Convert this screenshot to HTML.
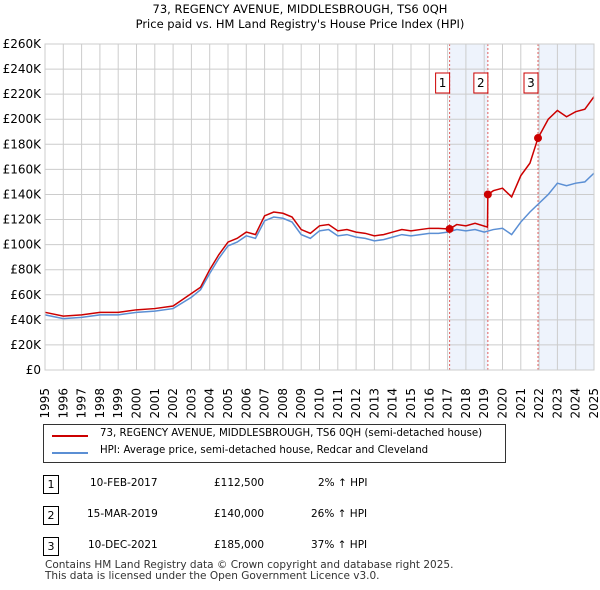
<!DOCTYPE html>
<html><head><meta charset="utf-8"><style>
body{margin:0;background:#fff;font-family:"DejaVu Sans","Liberation Sans",sans-serif;}
#wrap{position:relative;width:600px;height:590px;overflow:hidden}
.t{position:absolute;font-size:11px;color:#000;white-space:nowrap}
</style></head><body><div id="wrap">
<svg id="chart" width="600" height="590" style="position:absolute;left:0;top:0;font-family:'DejaVu Sans',sans-serif"></svg>
</div>
<script>
const years=[1995,1996,1997,1998,1999,2000,2001,2002,2003,2003.5,2004,2004.5,2005,2005.5,2006,2006.5,2007,2007.5,2008,2008.5,2009,2009.5,2010,2010.5,2011,2011.5,2012,2012.5,2013,2013.5,2014,2014.5,2015,2015.5,2016,2016.5,2017,2017.5,2018,2018.5,2019,2019.5,2020,2020.5,2021,2021.5,2022,2022.5,2023,2023.5,2024,2024.5,2025];
const hpiValues=[44,41,42,44,44,46,47,49,58,64,77,89,99,102,107,105,119,122,121,118,108,105,111,112,107,108,106,105,103,104,106,108,107,108,109,109,110,112,111,112,110,112,113,108,118,126,133,140,149,147,149,150,157];
const redYears=[1995,1996,1997,1998,1999,2000,2001,2002,2003,2003.5,2004,2004.5,2005,2005.5,2006,2006.5,2007,2007.5,2008,2008.5,2009,2009.5,2010,2010.5,2011,2011.5,2012,2012.5,2013,2013.5,2014,2014.5,2015,2015.5,2016,2016.5,2017.11,2017.5,2018,2018.5,2019.18,2019.2,2019.5,2020,2020.5,2021,2021.5,2021.94,2022.5,2023,2023.5,2024,2024.5,2025];
const redValues=[46,43,44,46,46,48,49,51,61,66,80,92,102,105,110,108,123,126,125,122,112,109,115,116,111,112,110,109,107,108,110,112,111,112,113,113,112.5,116,115,117,114,140,143,145,138,155,165,185,200,207,202,206,208,218];
const saleYears=[2017.11,2019.2,2021.94];
const saleValues=[112.5,140,185];
const saleLabels=["1","2","3"];
const yTicks=[0,20,40,60,80,100,120,140,160,180,200,220,240,260];
const xTicks=[1995,1996,1997,1998,1999,2000,2001,2002,2003,2004,2005,2006,2007,2008,2009,2010,2011,2012,2013,2014,2015,2016,2017,2018,2019,2020,2021,2022,2023,2024,2025];
const X0=45,X1=594,Y0=370,Y1=44;
const x=v=>X0+(v-1995)*(X1-X0)/30;
const y=v=>Y0-v*(Y0-Y1)/260;
const svg=document.getElementById('chart');const NS='http://www.w3.org/2000/svg';
function mk(tag,a,parent){const e=document.createElementNS(NS,tag);for(const k in a)e.setAttribute(k,a[k]);(parent||svg).appendChild(e);return e;}
let e;
e=mk('rect',{x:x(saleYears[0]),y:Y1,width:x(saleYears[1])-x(saleYears[0]),height:Y0-Y1,fill:'#eef3fc'});


e=mk('rect',{x:x(saleYears[2]),y:Y1,width:X1-x(saleYears[2]),height:Y0-Y1,fill:'#eef3fc'});


yTicks.forEach(v=>{
 e=mk('line',{x1:X0,x2:X1,y1:y(v),y2:y(v),stroke:'#cccccc','stroke-width':1});
 
 
 e=mk('text',{x:X0-4,y:y(v)+4,'text-anchor':'end','font-size':12,fill:'#000'});
 e.textContent='£'+v+(v?'K':'');
 
 
});
xTicks.forEach(v=>{
 e=mk('line',{x1:x(v),x2:x(v),y1:Y1,y2:Y0,stroke:'#cccccc','stroke-width':1});
 
 
 e=mk('text',{x:x(v),y:384,'text-anchor':'end','font-size':12,fill:'#000',transform:`rotate(-90 ${x(v)+4} 384)`});
 e.textContent=v;
 
 
});
saleYears.forEach((v,i)=>{
 e=mk('line',{x1:x(v),x2:x(v),y1:Y1,y2:Y0,stroke:'#e06060','stroke-width':1,'stroke-dasharray':'2,2'});
 
 
});
e=mk('polyline',{points:years.map((v,i)=>x(v)+','+y(hpiValues[i])).join(' '),fill:'none',stroke:'#5b8fd4','stroke-width':1.5});


e=mk('polyline',{points:redYears.map((v,i)=>x(v)+','+y(redValues[i])).join(' '),fill:'none',stroke:'#cc0000','stroke-width':1.5});


saleYears.forEach((v,i)=>{
 e=mk('circle',{cx:x(v),cy:y(saleValues[i]),r:4,fill:'#cc0000'});
 
 
 e=mk('rect',{x:x(v)-14,y:73,width:14,height:20,fill:'#fff',stroke:'#cc0000'});
 
 
 e=mk('text',{x:x(v)-7,y:87,'text-anchor':'middle','font-size':12});
 e.textContent=saleLabels[i];
 
 
});
e=mk('rect',{x:X0,y:Y1,width:X1-X0,height:Y0-Y1,fill:'none',stroke:'#cccccc'});


</script>
<div class="t" style="left:0;width:600px;text-align:center;top:2px;font-size:11.5px;line-height:15px">73, REGENCY AVENUE, MIDDLESBROUGH, TS6 0QH<br>Price paid vs. HM Land Registry's House Price Index (HPI)</div>
<div style="position:absolute;left:43px;top:424px;width:461px;height:37px;border:1px solid #333;background:#fff">
 <div style="position:absolute;left:8px;top:10px;width:36px;height:2px;background:#cc0000"></div>
 <div class="t" style="left:56px;top:3px;font-size:10.2px">73, REGENCY AVENUE, MIDDLESBROUGH, TS6 0QH (semi-detached house)</div>
 <div style="position:absolute;left:8px;top:27px;width:36px;height:2px;background:#5b8fd4"></div>
 <div class="t" style="left:56px;top:20px;font-size:10.2px">HPI: Average price, semi-detached house, Redcar and Cleveland</div>
</div>
<div>
 <div style="position:absolute;left:43px;top:475px;width:14px;height:17px;border:1px solid #000;font-size:11px;text-align:center;line-height:17px">1</div>
 <div class="t" style="left:90px;top:477px;font-size:10.5px">10-FEB-2017</div><div class="t" style="left:214px;top:477px;font-size:10.5px">£112,500</div><div class="t" style="left:318px;top:477px;font-size:10.5px">2% ↑ HPI</div>
 <div style="position:absolute;left:43px;top:506px;width:14px;height:17px;border:1px solid #000;font-size:11px;text-align:center;line-height:17px">2</div>
 <div class="t" style="left:87px;top:508px;font-size:10.5px">15-MAR-2019</div><div class="t" style="left:214px;top:508px;font-size:10.5px">£140,000</div><div class="t" style="left:311px;top:508px;font-size:10.5px">26% ↑ HPI</div>
 <div style="position:absolute;left:43px;top:537px;width:14px;height:17px;border:1px solid #000;font-size:11px;text-align:center;line-height:17px">3</div>
 <div class="t" style="left:88px;top:539px;font-size:10.5px">10-DEC-2021</div><div class="t" style="left:214px;top:539px;font-size:10.5px">£185,000</div><div class="t" style="left:311px;top:539px;font-size:10.5px">37% ↑ HPI</div>
</div>
<div class="t" style="left:45px;top:560px;font-size:10.5px;color:#333;line-height:11px">Contains HM Land Registry data © Crown copyright and database right 2025.<br>This data is licensed under the Open Government Licence v3.0.</div>
</body></html>
